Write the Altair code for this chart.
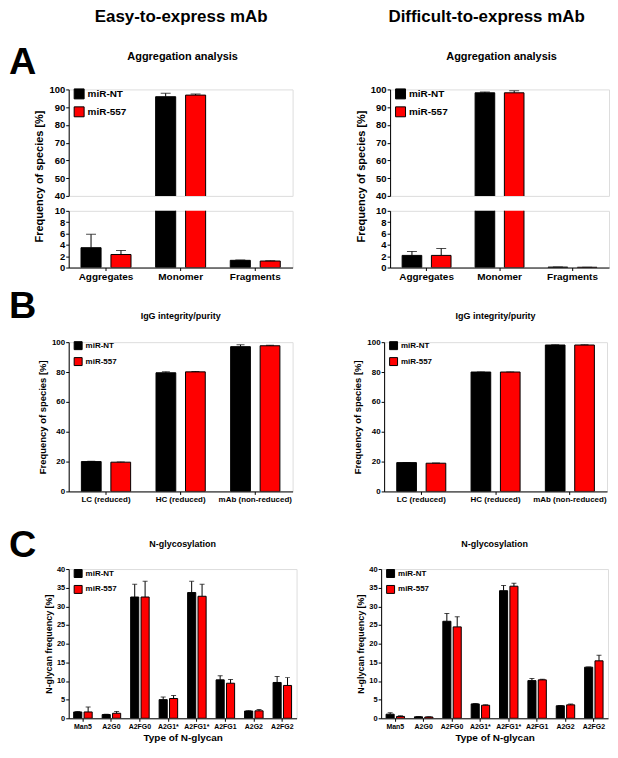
import altair as alt
import pandas as pd

FONT = "Liberation Sans"
SERIES = ["miR-NT", "miR-557"]
SERIES_COLORS = ["#000000", "#ff0000"]

# ---------------- data ----------------
agg_categories = ["Aggregates", "Monomer", "Fragments"]
agg_easy_nt = [3.5, 95.9, 1.27]
agg_easy_nt_err = [2.35, 1.9, 0.06]
agg_easy_mir = [2.3, 96.8, 1.15]
agg_easy_mir_err = [0.7, 0.6, 0.05]
agg_diff_nt = [2.14, 98.1, 0.08]
agg_diff_nt_err = [0.7, 0.5, 0.0]
agg_diff_mir = [2.14, 98.1, 0.05]
agg_diff_mir_err = [1.2, 1.1, 0.0]

igg_categories = ["LC (reduced)", "HC (reduced)", "mAb (non-reduced)"]
igg_easy_nt = [20.0, 79.5, 97.0]
igg_easy_nt_err = [0.2, 0.7, 1.2]
igg_easy_mir = [19.6, 80.1, 97.6]
igg_easy_mir_err = [0.2, 0.3, 0.3]
igg_diff_nt = [19.3, 80.0, 98.1]
igg_diff_nt_err = [0.1, 0.1, 0.1]
igg_diff_mir = [18.9, 80.0, 98.1]
igg_diff_mir_err = [0.1, 0.1, 0.1]

gly_categories = ["Man5", "A2G0", "A2FG0", "A2G1*", "A2FG1*", "A2FG1", "A2G2", "A2FG2"]
gly_easy_nt = [1.7, 1.0, 32.5, 5.0, 33.7, 10.3, 1.95, 9.6]
gly_easy_nt_err = [0.1, 0.1, 3.4, 0.7, 3.0, 1.1, 0.1, 1.6]
gly_easy_mir = [1.7, 1.35, 32.5, 5.3, 32.7, 9.4, 2.0, 8.8]
gly_easy_mir_err = [1.3, 0.5, 4.2, 0.8, 3.2, 1.0, 0.35, 2.1]
gly_diff_nt = [1.1, 0.4, 26.0, 3.86, 34.2, 10.1, 3.35, 13.7]
gly_diff_nt_err = [0.4, 0.05, 2.1, 0.1, 1.4, 0.55, 0.1, 0.05]
gly_diff_mir = [0.5, 0.35, 24.5, 3.5, 35.4, 10.3, 3.6, 15.4]
gly_diff_mir_err = [0.15, 0.05, 2.7, 0.1, 0.8, 0.15, 0.2, 1.5]


def frame(cats, nt, nt_err, mir, mir_err):
    rows = []
    for i, c in enumerate(cats):
        rows.append(dict(cat=c, series=SERIES[0], value=nt[i], top=nt[i] + nt_err[i]))
        rows.append(dict(cat=c, series=SERIES[1], value=mir[i], top=mir[i] + mir_err[i]))
    return pd.DataFrame(rows)


def y_axis(values, title, label_size, title_size, title_pad, title_y=None):
    kw = dict(values=values, title=title, grid=False, domainColor="black", domainWidth=1,
              tickColor="black", tickSize=3, tickWidth=1, labelFont=FONT, labelFontWeight="bold",
              labelFontSize=label_size, labelColor="black", labelPadding=1, labelFlush=False,
              titleFont=FONT, titleFontWeight="bold", titleFontSize=title_size, titleColor="black",
              titlePadding=title_pad, format="d")
    if title_y is not None:
        kw["titleY"] = title_y
    return alt.Axis(**kw)


def x_axis(label_size, title=None, title_size=10, title_pad=3):
    return alt.Axis(title=title, labelAngle=0, domainColor="black", domainWidth=1, tickColor="black",
                    tickSize=3, tickWidth=1, labelFont=FONT, labelFontWeight="bold",
                    labelFontSize=label_size, labelColor="black", labelPadding=1, labelOverlap=False,
                    labelLimit=300, titleFont=FONT, titleFontWeight="bold", titleFontSize=title_size,
                    titleColor="black", titlePadding=title_pad)


def legend(sym, fs, row_pad, lx, ly):
    return alt.Legend(title=None, orient="none", legendX=lx, legendY=ly, symbolType="square",
                      symbolSize=sym * sym, symbolStrokeColor="black", symbolStrokeWidth=1,
                      symbolOpacity=1, labelFont=FONT, labelFontWeight="bold", labelFontSize=fs,
                      labelColor="black", labelOffset=3, rowPadding=row_pad, padding=0)


def bar_layers(df, cats, y_domain, yax, xax, pad_in, off_pad, cap, leg):
    x = alt.X("cat:N", sort=cats, axis=xax,
              scale=alt.Scale(paddingInner=pad_in, paddingOuter=pad_in / 2))
    xo = alt.XOffset("series:N", sort=SERIES,
                     scale=alt.Scale(domain=SERIES, paddingInner=off_pad, paddingOuter=0))
    ysc = alt.Scale(domain=y_domain, nice=False, zero=False)
    col = alt.Color("series:N", sort=SERIES,
                    scale=alt.Scale(domain=SERIES, range=SERIES_COLORS), legend=leg)
    base = alt.Chart(df)
    bars = base.mark_bar(stroke="black", strokeWidth=1, clip=True).encode(
        x=x, xOffset=xo, y=alt.Y("value:Q", scale=ysc, axis=yax), color=col)
    rules = base.mark_rule(color="black", strokeWidth=1, clip=True).encode(
        x=x, xOffset=xo, y=alt.Y("value:Q", scale=ysc, axis=yax), y2="top:Q")
    caps = base.mark_tick(color="black", thickness=1, size=cap, clip=True).encode(
        x=x, xOffset=xo, y=alt.Y("top:Q", scale=ysc, axis=yax))
    return [bars, rules, caps]


def label(text, x, y, size, align="center", baseline="alphabetic"):
    return alt.Chart(pd.DataFrame({"t": [text]})).mark_text(
        font=FONT, fontWeight="bold", fontSize=size, color="black", align=align,
        baseline=baseline).encode(text="t:N", x=alt.value(x), y=alt.value(y))


def ind(c):
    return c.resolve_scale(color="independent", xOffset="independent").resolve_legend(
        color="independent")


LETTER_X = -60


def agg_panel(df, width, header, header_x, letter):
    texts = [label(header, header_x, -81, 17, baseline="top"),
             label("Aggregation analysis", width / 2 + 2, -30, 11)]
    if letter:
        texts.append(label(letter, LETTER_X, -16, 38, align="left"))
    top_ax = y_axis(list(range(40, 101, 10)), "Frequency of species [%]", 9.5, 11, 4, title_y=87)
    bot_ax = y_axis([0, 2, 4, 6, 8, 10], None, 9.5, 11, 4)
    top = alt.layer(*bar_layers(df, agg_categories, [40, 100], top_ax, None, 0.33, 0.33, 10,
                                legend(10, 10, 3, 5, -1)), *texts).properties(width=width, height=107)
    bottom = alt.layer(*bar_layers(df, agg_categories, [0, 10], bot_ax, x_axis(10), 0.33, 0.33, 10,
                                   None)).properties(width=width, height=57)
    return ind(alt.vconcat(top, bottom, spacing=15, bounds="flush"))


def igg_panel(df, width, letter):
    texts = [label("IgG integrity/purity", width / 2, -23, 9)]
    if letter:
        texts.append(label(letter, LETTER_X, -24, 38, align="left"))
    yax = y_axis([0, 20, 40, 60, 80, 100], "Frequency of species [%]", 8, 9.5, 4)
    return alt.layer(*bar_layers(df, igg_categories, [0, 100], yax, x_axis(8), 0.34, 0.33, 8,
                                 legend(8, 8, 3, 5, -1)), *texts).properties(width=width, height=150)


def gly_panel(df, width, letter):
    texts = [label("N-glycosylation", width / 2, -22, 9)]
    if letter:
        texts.append(label(letter, LETTER_X, -12, 38, align="left"))
    yax = y_axis(list(range(0, 41, 5)), "N-glycan frequency [%]", 7.5, 9, 3)
    return alt.layer(*bar_layers(df, gly_categories, [0, 40], yax,
                                 x_axis(7, "Type of N-glycan", 10, 3), 0.35, 0.22, 5,
                                 legend(8, 8, 3, 5, 0)), *texts).properties(width=width, height=150)


agg_easy = frame(agg_categories, agg_easy_nt, agg_easy_nt_err, agg_easy_mir, agg_easy_mir_err)
agg_diff = frame(agg_categories, agg_diff_nt, agg_diff_nt_err, agg_diff_mir, agg_diff_mir_err)
igg_easy = frame(igg_categories, igg_easy_nt, igg_easy_nt_err, igg_easy_mir, igg_easy_mir_err)
igg_diff = frame(igg_categories, igg_diff_nt, igg_diff_nt_err, igg_diff_mir, igg_diff_mir_err)
gly_easy = frame(gly_categories, gly_easy_nt, gly_easy_nt_err, gly_easy_mir, gly_easy_mir_err)
gly_diff = frame(gly_categories, gly_diff_nt, gly_diff_nt_err, gly_diff_mir, gly_diff_mir_err)

row_a = ind(alt.hconcat(agg_panel(agg_easy, 225, "Easy-to-express mAb", 113, "A"),
                        agg_panel(agg_diff, 220, "Difficult-to-express mAb", 97, None),
                        spacing=61))
row_b = ind(alt.hconcat(igg_panel(igg_easy, 225, "B"), igg_panel(igg_diff, 224, None),
                        spacing=92, bounds="flush"))
row_c = ind(alt.hconcat(gly_panel(gly_easy, 229, "C"), gly_panel(gly_diff, 228, None),
                        spacing=85, bounds="flush"))
lower = ind(alt.vconcat(row_b, row_c, spacing=22))

chart = ind(alt.vconcat(row_a, lower, spacing=5)).properties(
    padding={"left": 0, "top": -3, "right": 0, "bottom": 0}
).configure_view(stroke=None).configure(background="white")

chart.save("out.html", embed_options={"renderer": "svg", "actions": False})
